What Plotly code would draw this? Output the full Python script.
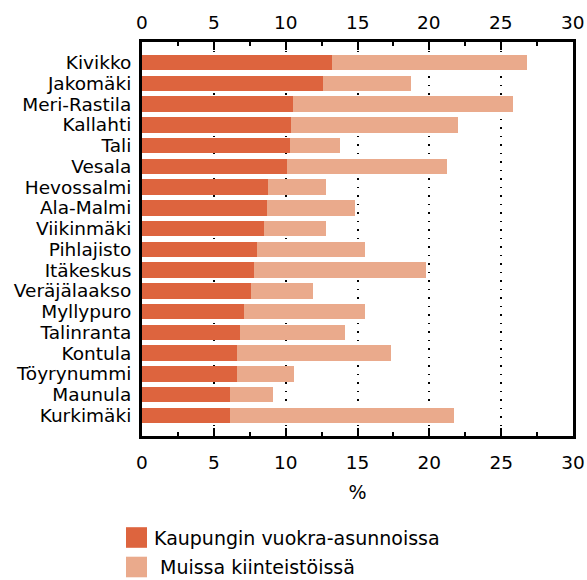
import plotly.graph_objects as go

# Alueet ja osuudet (%), luettu kuvasta
alueet = ["Kivikko", "Jakomäki", "Meri-Rastila", "Kallahti", "Tali", "Vesala",
          "Hevossalmi", "Ala-Malmi", "Viikinmäki", "Pihlajisto", "Itäkeskus",
          "Veräjälaakso", "Myllypuro", "Talinranta", "Kontula", "Töyrynummi",
          "Maunula", "Kurkimäki"]
kaupungin = [13.2, 12.6, 10.5, 10.4, 10.3, 10.1, 8.8, 8.7, 8.5, 8.0, 7.8,
             7.6, 7.1, 6.8, 6.6, 6.6, 6.1, 6.1]
muissa = [13.6, 6.1, 15.3, 11.6, 3.5, 11.1, 4.0, 6.1, 4.3, 7.5, 12.0,
          4.3, 8.4, 7.3, 10.7, 4.0, 3.0, 15.6]
sarjat = ["Kaupungin vuokra-asunnoissa", "Muissa kiinteistöissä"]
varit = ["#DD643E", "#EAAA8C"]
xticks = [0, 5, 10, 15, 20, 25, 30]

FONT = "DejaVu Sans"

fig = go.Figure()
fig.add_trace(go.Bar(y=alueet, x=kaupungin, name=sarjat[0], orientation="h",
                     marker=dict(color=varit[0], line_width=0), showlegend=False))
fig.add_trace(go.Bar(y=alueet, x=muissa, name=sarjat[1], orientation="h",
                     marker=dict(color=varit[1], line_width=0), showlegend=False))
# tyhjä jälki, jotta yläakseli piirtyy
fig.add_trace(go.Scatter(x=[None], y=[None], xaxis="x2", showlegend=False,
                         hoverinfo="skip"))

xax = dict(range=[0, 30], tickvals=xticks, ticks="inside", ticklen=8, tickwidth=2,
           tickcolor="black", showline=True, linewidth=3, linecolor="black",
           showgrid=True, gridcolor="black", gridwidth=1.5, griddash="1.5px,7px",
           zeroline=False, automargin=False,
           tickfont=dict(size=18.5, color="black", family=FONT),
           minor=dict(dtick=2.5, ticks="inside", ticklen=4, tickwidth=2,
                      tickcolor="black", showgrid=False))

fig.update_layout(
    width=587, height=580,
    margin=dict(l=142, r=14, t=42, b=144),
    paper_bgcolor="white", plot_bgcolor="white",
    barmode="stack", bargap=0.25,
    font=dict(family=FONT, color="black"),
    xaxis=dict(**xax, side="bottom", ticklabelstandoff=8,
               title=dict(text="%", font=dict(size=19), standoff=14)),
    xaxis2=dict(**xax, side="top", overlaying="x", anchor="y",
                showticklabels=False),
    yaxis=dict(type="category", range=[17.99, -0.99], showline=True, linewidth=3,
               linecolor="black", mirror=True, ticks="", showgrid=False,
               tickmode="array", tickvals=alueet, ticktext=alueet,
               automargin=False,
               tickfont=dict(size=18.5, color="black", family=FONT),
               ticklabelstandoff=4),
)

# yläakselin luvut
for t in xticks:
    fig.add_annotation(text=str(t), xref="x", yref="paper", x=t, y=1,
                       xanchor="center", yanchor="middle", yshift=20,
                       showarrow=False,
                       font=dict(size=18.5, color="black", family=FONT))

# selite kuvan alle
sel_y = [-101.5, -131]
sel_x = [10, 16]
for i in range(2):
    fig.add_shape(type="rect", xref="paper", yref="paper", xsizemode="pixel",
                  ysizemode="pixel", xanchor=0, yanchor=0,
                  x0=-16, x1=5, y0=sel_y[i] - 10.3, y1=sel_y[i] + 10.3,
                  fillcolor=varit[i], line_width=0)
    fig.add_annotation(text=sarjat[i], xref="paper", yref="paper", x=0, y=0,
                       xanchor="left", yanchor="middle", xshift=sel_x[i],
                       yshift=sel_y[i], showarrow=False,
                       font=dict(size=19, color="black", family=FONT))

fig.write_html("out.html", config={"displayModeBar": False},
               post_script="document.body.style.margin='0';")
